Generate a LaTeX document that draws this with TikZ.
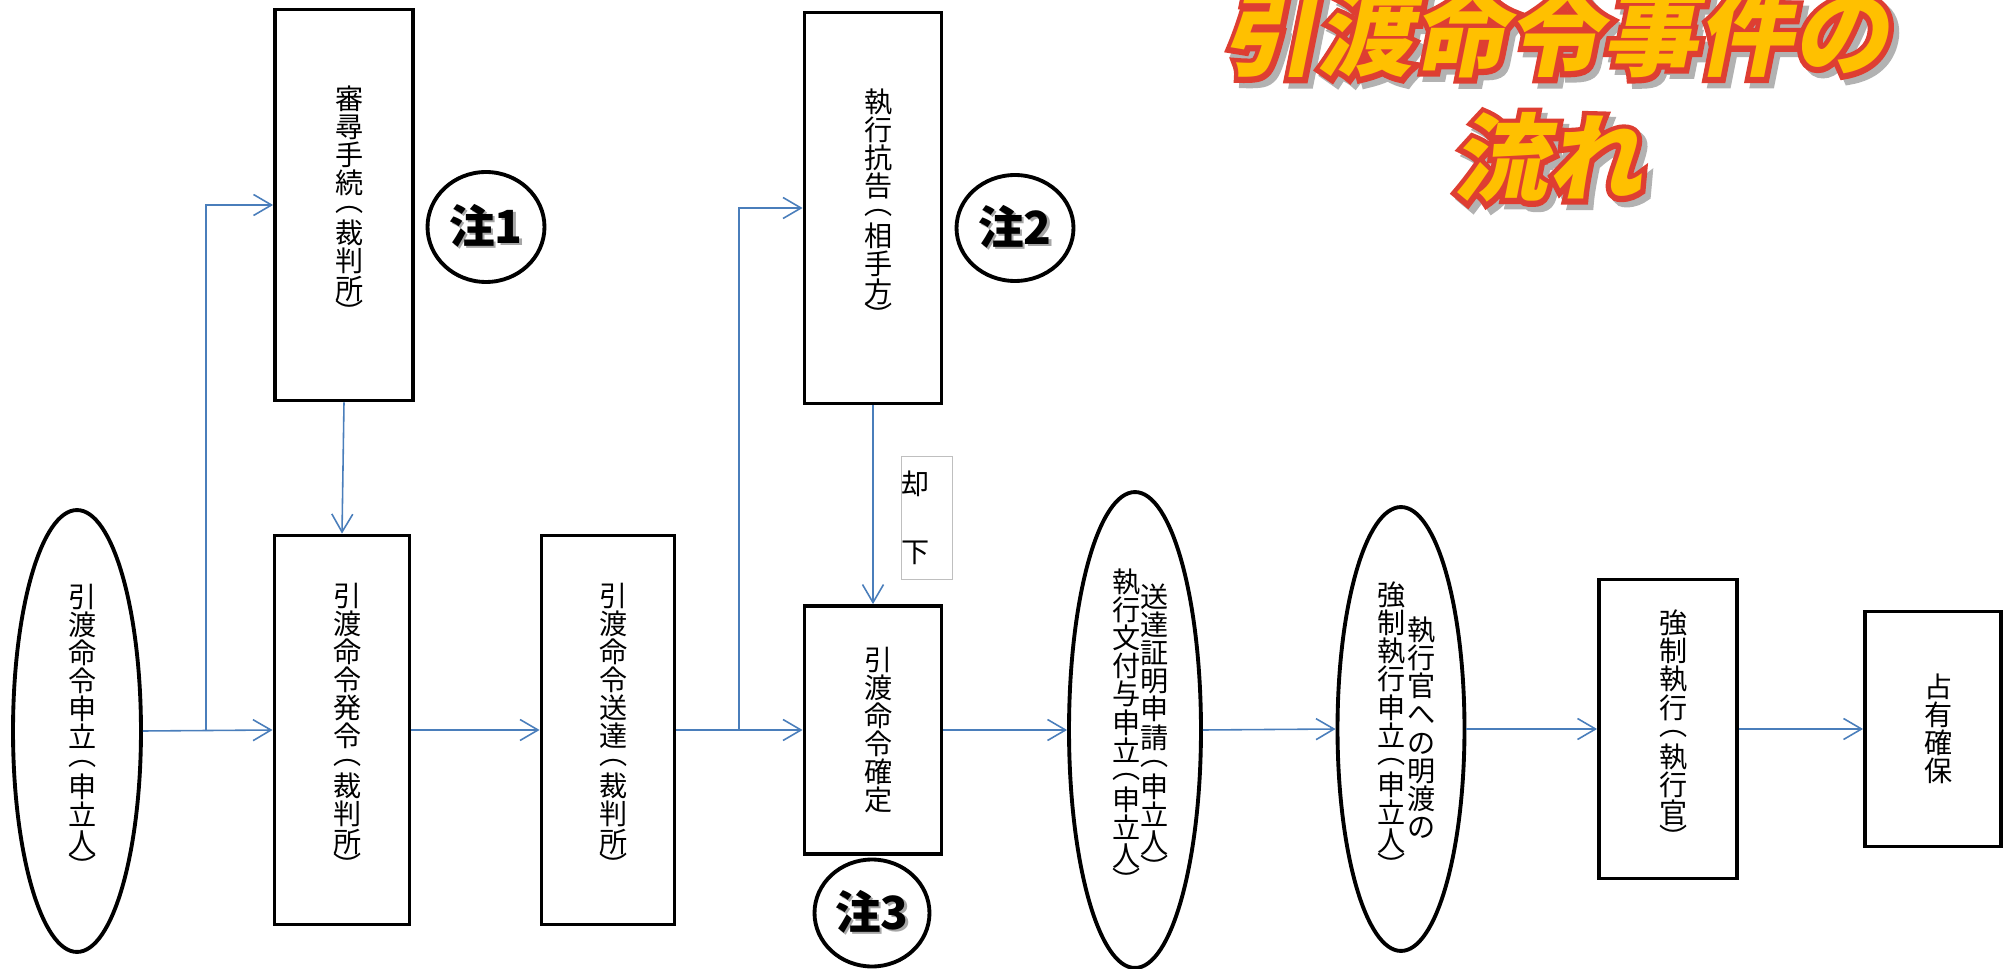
\documentclass[tikz,border=0pt]{standalone}
\usepackage{fontspec}
\setmainfont{Noto Sans CJK JP}
\newfontfamily\titlefill[FakeSlant=0.2]{Noto Sans CJK JP}
\newfontfamily\titleedge[FakeSlant=0.2,FakeBold=11]{Noto Sans CJK JP}
\usetikzlibrary{arrows.meta,shapes.geometric}
\definecolor{arrowblue}{RGB}{74,126,187}
\definecolor{titlegold}{RGB}{255,192,0}
\definecolor{titlered}{RGB}{222,62,50}
\definecolor{kyakkagray}{RGB}{191,191,191}
% tategaki: one character per line
\newcommand{\tate}[2][c]{\begin{minipage}[#1]{1em}\centering\fontsize{16}{16}\selectfont #2\end{minipage}}
\newcommand{\hiraki}{\\[-6pt]︵\\[2pt]}% vertical (
\newcommand{\toji}{\\[-2pt]︶}% vertical )
\newcommand{\kage}[1]{\rlap{\hspace{1.5pt}\raisebox{-1.5pt}{\color{black!35}#1}}#1}% text with shadow
\newcommand{\wordart}[1]{\rlap{\hspace{3pt}\raisebox{-3pt}{\titleedge\bfseries\color{black!30}#1}}%
  \rlap{\titleedge\bfseries\color{titlered}#1}{\titlefill\bfseries\color{titlegold}#1}}
\tikzset{
  box/.style = {draw=black, line width=2.2pt, inner sep=0pt},% step of the procedure
  oval/.style = {ellipse, draw=black, line width=2.2pt, inner sep=0pt},% petition
  chu/.style = {ellipse, draw=black, line width=2.2pt, inner sep=0pt,
    font=\bfseries\fontsize{26}{26}\selectfont},% note mark
  flow/.style = {->, draw=arrowblue, line width=0.9pt},% flow arrow
  note/.style = {draw=kyakkagray, line width=0.6pt, inner sep=0pt,
    text width=1.02cm, align=left, font=\fontsize{16}{16}\selectfont}% side note
}

\begin{document}
\begin{tikzpicture}[x=0.02cm,y=-0.02cm,>={Straight Barb[length=3.6mm,width=4.2mm]}]
\useasboundingbox (0,0) rectangle (2009,969);

\node [oval, minimum width=2.56cm, minimum height=8.84cm] (moshitate) at (77,731)
  {\tate{引\\渡\\命\\令\\申\\立\hiraki 申\\立\\人\toji}};
\node [box, minimum width=2.76cm, minimum height=7.82cm] (shinjin) at (344,205)
  {\tate{審\\尋\\手\\続\hiraki 裁\\判\\所\toji}};
\node [chu, minimum width=2.34cm, minimum height=2.2cm] (chu1) at (486,227) {\kage{注1}};
\node [box, minimum width=2.7cm, minimum height=7.78cm] (hatsurei) at (342,730)
  {\tate{引\\渡\\命\\令\\発\\令\hiraki 裁\\判\\所\toji}};
\node [box, minimum width=2.66cm, minimum height=7.78cm] (soutatsu) at (608,730)
  {\tate{引\\渡\\命\\令\\送\\達\hiraki 裁\\判\\所\toji}};
\node [box, minimum width=2.74cm, minimum height=7.82cm] (kokoku) at (873,208)
  {\tate{執\\行\\抗\\告\hiraki 相\\手\\方\toji}};
\node [chu, minimum width=2.34cm, minimum height=2.12cm] (chu2) at (1015,228) {\kage{注2}};
\node [note, minimum height=2.46cm] (kyakka) at (927,518) {却\\[23pt]下};
\node [box, minimum width=2.74cm, minimum height=4.96cm] (kakutei) at (873,730)
  {\tate{引\\渡\\命\\令\\確\\定}};
\node [chu, minimum width=2.3cm, minimum height=2.14cm] (chu3) at (872,913) {\kage{注3}};
\node [oval, minimum width=2.64cm, minimum height=9.52cm] (fuyo) at (1135,730)
  {\tate[t]{執\\行\\文\\付\\与\\申\\立\hiraki 申\\立\\人\toji}\hspace{0.2cm}%
   \raisebox{-0.3cm}{\tate[t]{送\\達\\証\\明\\申\\請\hiraki 申\\立\\人\toji}}};
\node [oval, minimum width=2.54cm, minimum height=8.88cm] (shikko) at (1401,729)
  {\tate[t]{強\\制\\執\\行\\申\\立\hiraki 申\\立\\人\toji}\hspace{0.24cm}%
   \raisebox{-0.7cm}{\tate[t]{執\\行\\官\\へ\\の\\明\\渡\\の}}};
\node [box, minimum width=2.76cm, minimum height=5.98cm] (kyosei) at (1668,729)
  {\tate{強\\制\\執\\行\hiraki 執\\行\\官\toji}};
\node [box, minimum width=2.72cm, minimum height=4.7cm] (senyu) at (1933,729)
  {\tate{占\\有\\確\\保}};

% title
\node [anchor=base, font=\fontsize{54}{54}\selectfont] (titre1) at (1555,69) {\wordart{引渡命令事件の}};
\node [anchor=base, font=\fontsize{54}{54}\selectfont] (titre2) at (1547,194) {\wordart{流れ}};

% arrows
\coordinate (j1) at (206,731);
\coordinate (j2) at (739,730);
\draw [flow] (moshitate.east) -- (hatsurei.west);
\draw [flow] (j1) |- (shinjin.west);
\draw [flow] (shinjin.south) -- (hatsurei.north);
\draw [flow] (j2) |- (kokoku.west);
\draw [flow] (kokoku.south) -- (kakutei.north);
\foreach \a/\b in {hatsurei/soutatsu, soutatsu/kakutei, kakutei/fuyo,
  fuyo/shikko, shikko/kyosei, kyosei/senyu}
  \draw [flow] (\a.east) -- (\b.west);
\end{tikzpicture}
\end{document}
